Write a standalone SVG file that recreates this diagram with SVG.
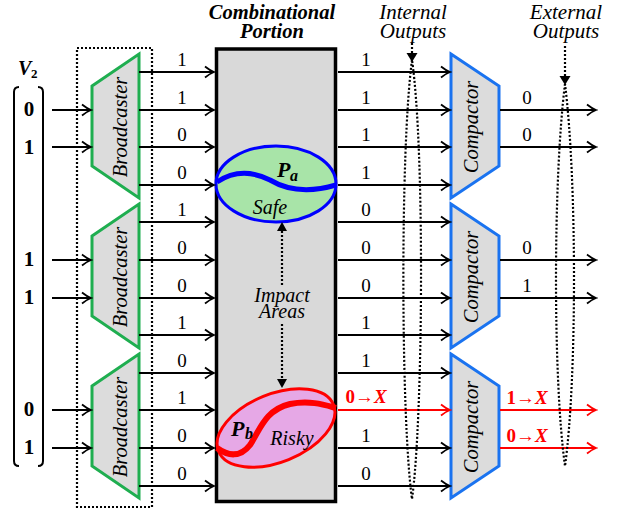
<svg xmlns="http://www.w3.org/2000/svg" width="623" height="509" viewBox="0 0 623 509" font-family="Liberation Serif, DejaVu Serif, serif">
<style>
text{fill:#000}
.lbl{font-size:19px;text-anchor:middle}
.in{font-size:21px;font-weight:bold;text-anchor:middle}
.ttl{font-size:21px;font-style:italic;text-anchor:middle}
.red{fill:#ff0000;font-weight:bold;font-size:19px;text-anchor:middle}
.wire{stroke:#000;stroke-width:2;fill:none;marker-end:url(#ah)}
.rwire{stroke:#ff0000;stroke-width:2;fill:none;marker-end:url(#ahr)}
.dot{stroke:#000;stroke-width:2.2;stroke-dasharray:2 2;fill:none}
.bc{fill:#dcdcdc;stroke:#1fae50;stroke-width:3;stroke-linejoin:miter}
.cp{fill:#dcdcdc;stroke:#1a73f0;stroke-width:3;stroke-linejoin:miter}
.rot{font-size:20.5px;font-style:italic;text-anchor:middle}
.it{font-size:20px;font-style:italic;text-anchor:middle}
</style>
<defs>
<marker id="ah" viewBox="-11 -7 13 14" refX="0" refY="0" markerWidth="13" markerHeight="14" markerUnits="userSpaceOnUse" orient="auto"><path d="M-9,-5.5 Q-4,-1.5 0,0 Q-4,1.5 -9,5.5" fill="none" stroke="#000" stroke-width="1.8"/></marker>
<marker id="ahr" viewBox="-11 -7 13 14" refX="0" refY="0" markerWidth="13" markerHeight="14" markerUnits="userSpaceOnUse" orient="auto"><path d="M-9,-5.5 Q-4,-1.5 0,0 Q-4,1.5 -9,5.5" fill="none" stroke="#ff0000" stroke-width="1.8"/></marker>
</defs>

<g id="vector">
<text x="18" y="75" style="font-size:20px;font-weight:bold;font-style:italic">V</text>
<text x="31" y="78" style="font-size:13px;font-weight:bold">2</text>
<path d="M19,87 Q14,87 14,92 L14,461 Q14,466 19,466" fill="none" stroke="#000" stroke-width="2"/>
<path d="M38,87 Q43,87 43,92 L43,461 Q43,466 38,466" fill="none" stroke="#000" stroke-width="2"/>
<text class="in" x="29" y="116">0</text>
<text class="in" x="29" y="154">1</text>
<text class="in" x="29" y="266">1</text>
<text class="in" x="29" y="304">1</text>
<text class="in" x="29" y="416">0</text>
<text class="in" x="29" y="454">1</text>
</g>

<g id="broadcaster-frame">
<rect x="77" y="48" width="75" height="459" class="dot"/>
</g>

<g id="broadcaster1">
<polygon class="bc" points="92,86 139,54 139,198 92,166"/>
<text class="rot" transform="translate(127,127) rotate(-90)">Broadcaster</text>
</g>
<g id="broadcaster2">
<polygon class="bc" points="92,236 139,204 139,348 92,316"/>
<text class="rot" transform="translate(127,277) rotate(-90)">Broadcaster</text>
</g>
<g id="broadcaster3">
<polygon class="bc" points="92,386 139,354 139,498 92,466"/>
<text class="rot" transform="translate(127,427) rotate(-90)">Broadcaster</text>
</g>

<g id="combinational">
<text x="272" y="19" style="font-size:20.5px;font-weight:bold;font-style:italic;text-anchor:middle">Combinational</text>
<text x="272" y="38" style="font-size:20.5px;font-weight:bold;font-style:italic;text-anchor:middle">Portion</text>
<rect x="216.5" y="49" width="119" height="452.5" fill="#d9d9d9" stroke="#000" stroke-width="3.5"/>
</g>

<g id="Pa">
<ellipse cx="276" cy="184" rx="60" ry="38" fill="#a8e4a8" stroke="#0000ff" stroke-width="3"/>
<path d="M217,182 C232,172 250,170 270,180 C290,192 312,192 336,185" fill="none" stroke="#0000ff" stroke-width="5"/>
<text x="277" y="177" style="font-size:22px;font-weight:bold;font-style:italic">P</text>
<text x="290" y="181" style="font-size:16px;font-weight:bold;font-style:italic">a</text>
<text class="it" x="270" y="214">Safe</text>
</g>

<g id="Pb">
<ellipse cx="276" cy="428" rx="62" ry="34" transform="rotate(-22 276 428)" fill="#e6a8e6" stroke="#ff0000" stroke-width="3"/>
<path d="M217,448 C228,456 240,458 250,445 C260,430 265,410 290,404 C310,400 325,405 336,408" fill="none" stroke="#ff0000" stroke-width="6"/>
<text x="231" y="436" style="font-size:22px;font-weight:bold;font-style:italic">P</text>
<text x="245" y="439" style="font-size:16px;font-weight:bold;font-style:italic">b</text>
<text class="it" x="292" y="445">Risky</text>
</g>

<g id="impact-areas">
<text class="it" x="282" y="302">Impact</text>
<text class="it" x="282" y="318">Areas</text>
</g>

<g id="compactor1">
<polygon class="cp" points="451,54 499,86 499,166 451,198"/>
<text class="rot" transform="translate(478,127) rotate(-90)">Compactor</text>
</g>
<g id="compactor2">
<polygon class="cp" points="451,204 499,236 499,316 451,348"/>
<text class="rot" transform="translate(478,277) rotate(-90)">Compactor</text>
</g>
<g id="compactor3">
<polygon class="cp" points="451,354 499,386 499,466 451,498"/>
<text class="rot" transform="translate(478,427) rotate(-90)">Compactor</text>
</g>

<g id="output-titles">
<text class="ttl" x="413" y="19">Internal</text>
<text class="ttl" x="413" y="38">Outputs</text>
<text class="ttl" x="566" y="19">External</text>
<text class="ttl" x="566" y="38">Outputs</text>
</g>

<g id="connectors">
<line class="wire" x1="52" y1="110" x2="91" y2="110"/>
<line class="wire" x1="52" y1="147" x2="91" y2="147"/>
<line class="wire" x1="52" y1="260" x2="91" y2="260"/>
<line class="wire" x1="52" y1="298" x2="91" y2="298"/>
<line class="wire" x1="52" y1="410" x2="91" y2="410"/>
<line class="wire" x1="52" y1="448" x2="91" y2="448"/>
<line class="wire" x1="139" y1="72" x2="214" y2="72"/>
<line class="wire" x1="139" y1="110" x2="214" y2="110"/>
<line class="wire" x1="139" y1="147" x2="214" y2="147"/>
<line class="wire" x1="139" y1="185" x2="214" y2="185"/>
<line class="wire" x1="139" y1="222" x2="214" y2="222"/>
<line class="wire" x1="139" y1="260" x2="214" y2="260"/>
<line class="wire" x1="139" y1="298" x2="214" y2="298"/>
<line class="wire" x1="139" y1="335" x2="214" y2="335"/>
<line class="wire" x1="139" y1="373" x2="214" y2="373"/>
<line class="wire" x1="139" y1="410" x2="214" y2="410"/>
<line class="wire" x1="139" y1="448" x2="214" y2="448"/>
<line class="wire" x1="139" y1="486" x2="214" y2="486"/>
<line class="wire" x1="338" y1="72" x2="450" y2="72"/>
<line class="wire" x1="338" y1="110" x2="450" y2="110"/>
<line class="wire" x1="338" y1="147" x2="450" y2="147"/>
<line class="wire" x1="338" y1="185" x2="450" y2="185"/>
<line class="wire" x1="338" y1="222" x2="450" y2="222"/>
<line class="wire" x1="338" y1="260" x2="450" y2="260"/>
<line class="wire" x1="338" y1="298" x2="450" y2="298"/>
<line class="wire" x1="338" y1="335" x2="450" y2="335"/>
<line class="wire" x1="338" y1="373" x2="450" y2="373"/>
<line class="rwire" x1="338" y1="410" x2="450" y2="410"/>
<line class="wire" x1="338" y1="448" x2="450" y2="448"/>
<line class="wire" x1="338" y1="486" x2="450" y2="486"/>
<line class="wire" x1="500" y1="110" x2="596" y2="110"/>
<line class="wire" x1="500" y1="147" x2="596" y2="147"/>
<line class="wire" x1="500" y1="260" x2="596" y2="260"/>
<line class="wire" x1="500" y1="298" x2="596" y2="298"/>
<line class="rwire" x1="500" y1="410" x2="596" y2="410"/>
<line class="rwire" x1="500" y1="448" x2="596" y2="448"/>

<text class="lbl" x="182" y="66">1</text>
<text class="lbl" x="182" y="104">1</text>
<text class="lbl" x="182" y="141">0</text>
<text class="lbl" x="182" y="179">0</text>
<text class="lbl" x="182" y="216">1</text>
<text class="lbl" x="182" y="254">0</text>
<text class="lbl" x="182" y="292">0</text>
<text class="lbl" x="182" y="329">1</text>
<text class="lbl" x="182" y="367">0</text>
<text class="lbl" x="182" y="404">1</text>
<text class="lbl" x="182" y="442">0</text>
<text class="lbl" x="182" y="480">0</text>
<text class="lbl" x="366" y="66">1</text>
<text class="lbl" x="366" y="104">1</text>
<text class="lbl" x="366" y="141">1</text>
<text class="lbl" x="366" y="179">1</text>
<text class="lbl" x="366" y="216">0</text>
<text class="lbl" x="366" y="254">0</text>
<text class="lbl" x="366" y="292">0</text>
<text class="lbl" x="366" y="329">1</text>
<text class="lbl" x="366" y="367">1</text>
<text class="red" x="366" y="403">0→<tspan font-style="italic">X</tspan></text>
<text class="lbl" x="366" y="442">1</text>
<text class="lbl" x="366" y="480">0</text>
<text class="lbl" x="527" y="104">0</text>
<text class="lbl" x="527" y="141">0</text>
<text class="lbl" x="527" y="254">0</text>
<text class="lbl" x="527" y="292">1</text>
<text class="red" x="527" y="404">1→<tspan font-style="italic">X</tspan></text>
<text class="red" x="527" y="442">0→<tspan font-style="italic">X</tspan></text>

<line class="dot" x1="282" y1="231" x2="282" y2="287"/>
<polygon points="282,222 277,231 287,231" fill="#000"/>
<line class="dot" x1="282" y1="324" x2="282" y2="379"/>
<polygon points="282,388 277,379 287,379" fill="#000"/>

<line class="dot" x1="412" y1="43" x2="412" y2="53"/>
<polygon points="412,62 406.5,53 417.5,53" fill="#000"/>
<path class="dot" d="M412,60 C400,150 401,420 412,499 C423,420 425,150 412,60"/>

<line class="dot" x1="565" y1="46" x2="565" y2="76"/>
<polygon points="565,85 559.5,76 570.5,76" fill="#000"/>
<path class="dot" d="M565,84 C553,180 553,380 565,466 C577,380 577,180 565,84"/>
</g>
</svg>
